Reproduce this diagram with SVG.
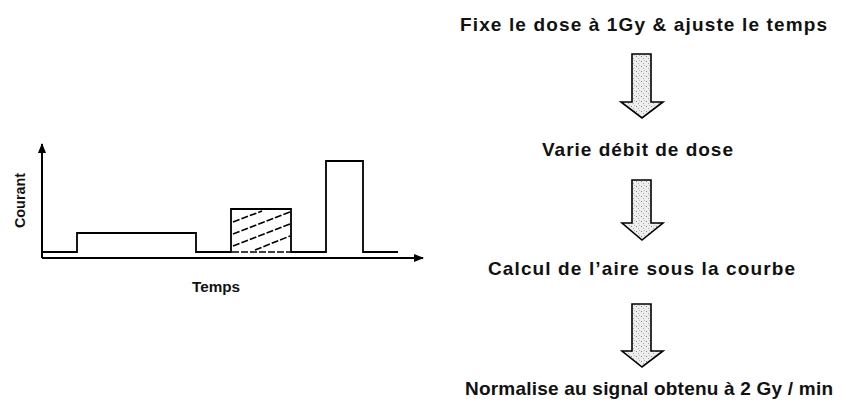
<svg xmlns="http://www.w3.org/2000/svg" width="846" height="409" viewBox="0 0 846 409">
  <style>
    .lbl { font-family: "Liberation Sans", Arial, sans-serif; font-weight: bold; font-size: 19px; fill: #111; }
    .axl { font-family: "Liberation Sans", Arial, sans-serif; font-weight: bold; font-size: 14.5px; fill: #111; }
    .ax { stroke: #000; stroke-width: 2; fill: none; }
    .sig { stroke: #000; stroke-width: 1.8; fill: none; stroke-linejoin: miter; }
    .hatch { stroke: #000; stroke-width: 1.6; stroke-dasharray: 7 2; fill: none; }
    .barrow { fill: url(#stipple); stroke: #000; stroke-width: 1.6; stroke-linejoin: miter; }
  </style>
  <defs>
    <pattern id="stipple" width="5" height="5" patternUnits="userSpaceOnUse">
      <rect width="5" height="5" fill="#eeeeee"/>
      <rect x="1" y="1" width="1" height="1" fill="#888"/>
      <rect x="3" y="3" width="1" height="1" fill="#aaa"/>
      <rect x="4" y="0" width="1" height="1" fill="#bbb"/>
    </pattern>
    <marker id="ah" markerWidth="10" markerHeight="10" refX="9" refY="5" orient="auto" markerUnits="userSpaceOnUse">
      <path d="M0,1 L10,5 L0,9 Z" fill="#000"/>
    </marker>
  </defs>
  <rect width="846" height="409" fill="#fff"/>

  <g id="chart">
    <line class="ax" x1="42" y1="258" x2="42" y2="144" marker-end="url(#ah)"/>
    <line class="ax" x1="42" y1="258" x2="423" y2="258" marker-end="url(#ah)"/>
    <polyline class="sig" points="43,252 77,252 77,233 196,233 196,252 231,252 231,209 291,209 291,252 326,252 326,161 363,161 363,252 398,252"/>
    <line x1="232" y1="252" x2="290" y2="252" stroke="#fff" stroke-width="2"/>
    <line class="hatch" x1="232" y1="252" x2="290" y2="252" stroke-dasharray="4 2"/>
    <line class="hatch" x1="233" y1="222" x2="262" y2="211"/>
    <line class="hatch" x1="233" y1="234" x2="290" y2="212"/>
    <line class="hatch" x1="233" y1="246" x2="290" y2="224"/>
    <line class="hatch" x1="255" y1="250" x2="290" y2="236"/>
    <text class="axl" transform="translate(25,200.5) rotate(-90)" text-anchor="middle" textLength="55" lengthAdjust="spacingAndGlyphs">Courant</text>
    <text class="axl" x="216" y="292" text-anchor="middle" textLength="48" lengthAdjust="spacingAndGlyphs">Temps</text>
  </g>

  <g id="step1">
    <text class="lbl" x="643.5" y="31" text-anchor="middle" textLength="367" lengthAdjust="spacing">Fixe le dose à 1Gy &amp; ajuste le temps</text>
  </g>
  <g id="step2">
    <text class="lbl" x="637.5" y="156" text-anchor="middle" textLength="191" lengthAdjust="spacing">Varie débit de dose</text>
  </g>
  <g id="step3">
    <text class="lbl" x="641.5" y="275" text-anchor="middle" textLength="307" lengthAdjust="spacing">Calcul de l’aire sous la courbe</text>
  </g>
  <g id="step4">
    <text class="lbl" x="649" y="395" text-anchor="middle" textLength="368" lengthAdjust="spacing">Normalise au signal obtenu à 2 Gy / min</text>
  </g>

  <g id="connectors">
    <path class="barrow" d="M632,54 L651,54 L651,102 L663,102 L642,118 L621,102 L632,102 Z"/>
    <path class="barrow" d="M632,180 L651,180 L651,223 L663,223 L642,240 L622,223 L632,223 Z"/>
    <path class="barrow" d="M632,304 L651,304 L651,351 L663,351 L642,367 L622,351 L632,351 Z"/>
  </g>
</svg>
